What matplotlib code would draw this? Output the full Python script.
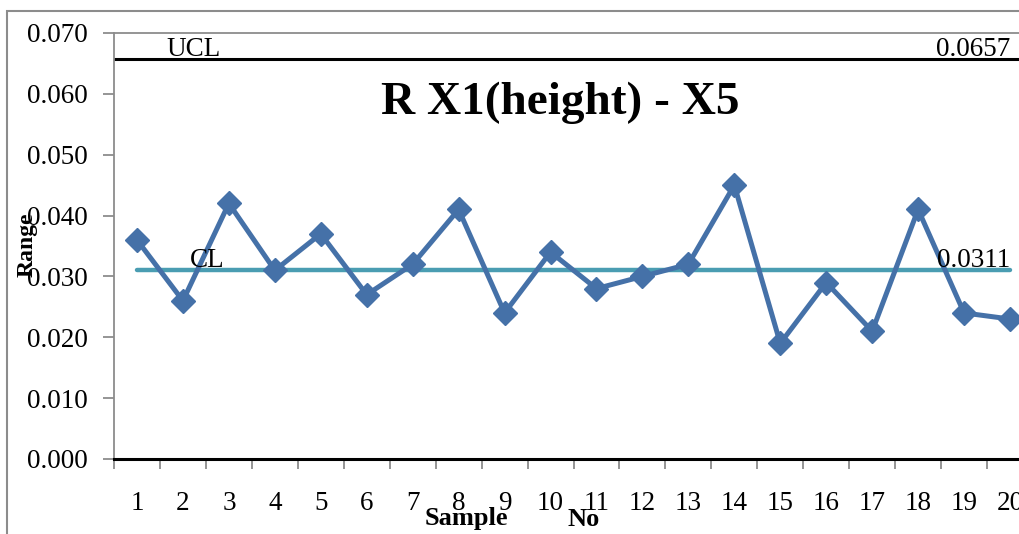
import matplotlib
matplotlib.use("Agg")
import matplotlib.pyplot as plt
from matplotlib.patches import Rectangle
import numpy as np

samples = list(range(1, 21))
ranges = [0.036, 0.026, 0.042, 0.031, 0.037, 0.027, 0.032, 0.041, 0.024, 0.034,
          0.028, 0.030, 0.032, 0.045, 0.019, 0.029, 0.021, 0.041, 0.024, 0.023]
ucl = 0.0657
cl = 0.0311
y_ticks = [0.000, 0.010, 0.020, 0.030, 0.040, 0.050, 0.060, 0.070]

plt.rcParams['font.family'] = ['Liberation Serif', 'DejaVu Serif']

W, H = 1019, 534
fig = plt.figure(figsize=(W / 100, H / 100), dpi=100)

# outer chart frame
fig.patches.append(Rectangle((7 / W, -0.2), 1.5, 1 - 11 / H + 0.2,
                             transform=fig.transFigure, fill=False,
                             edgecolor='#8c8c8c', linewidth=1.5, zorder=0))

left, right, bottom, top = 114, 1033, 459, 33
ax = fig.add_axes([left / W, 1 - bottom / H, (right - left) / W, (bottom - top) / H])

ax.set_xlim(0.5, 20.5)
ax.set_ylim(0, 0.070)

# control lines
ax.axhline(ucl, color='black', linewidth=2.2, zorder=2)
ax.plot([samples[0], samples[-1]], [cl, cl], color='#4A9DB2', linewidth=3.2,
        solid_capstyle='round', zorder=3)

# range series
ax.plot(samples, ranges, color='#4571A8', linewidth=3.6, marker='D',
        markersize=12.5, markerfacecolor='#4571A8', markeredgecolor='#4571A8', zorder=4)

# labels on the control lines
ax.text(1.65, ucl - 0.0004, 'UCL', fontsize=19.5, ha='left', va='bottom', zorder=5)
ax.text(20.0, ucl - 0.0004, '0.0657', fontsize=19.5, ha='right', va='bottom', zorder=5)
ax.text(2.15, cl - 0.0006, 'CL', fontsize=19.5, ha='left', va='bottom', zorder=5)
ax.text(20.0, cl - 0.0006, '0.0311', fontsize=19.5, ha='right', va='bottom', zorder=5)

# axes styling
ax.set_yticks(y_ticks)
ax.set_yticklabels([f'{v:.3f}' for v in y_ticks], fontsize=19.5)
ax.set_xticks(np.arange(0.5, 21.0, 1.0))
ax.set_xticklabels([])
ax.set_xticks(samples, minor=True)
ax.set_xticklabels([str(s) for s in samples], minor=True, fontsize=19.5)
ax.tick_params(axis='x', which='major', direction='out', length=7, width=1.3, color='#8c8c8c')
ax.tick_params(axis='x', which='minor', length=0, pad=23)
ax.tick_params(axis='y', direction='out', length=8, width=1.3, color='#8c8c8c', pad=11)

for side in ('left', 'top'):
    ax.spines[side].set_color('#8c8c8c')
    ax.spines[side].set_linewidth(1.3)
ax.spines['right'].set_visible(False)
ax.spines['bottom'].set_color('black')
ax.spines['bottom'].set_linewidth(2.2)

# titles
fig.text(560 / W, 1 - 103 / H, 'R X1(height) - X5', fontsize=34, fontweight='bold',
         ha='center', va='center')
fig.text(27 / W, 1 - 245 / H, 'Range', fontsize=17, fontweight='bold',
         rotation=90, ha='center', va='center')
fig.text(466 / W, 1 - 519 / H, 'Sample', fontsize=19, fontweight='bold',
         ha='center', va='center')
fig.text(584 / W, 1 - 519 / H, 'No', fontsize=19, fontweight='bold',
         ha='center', va='center')

fig.savefig('out.png', dpi=100)
